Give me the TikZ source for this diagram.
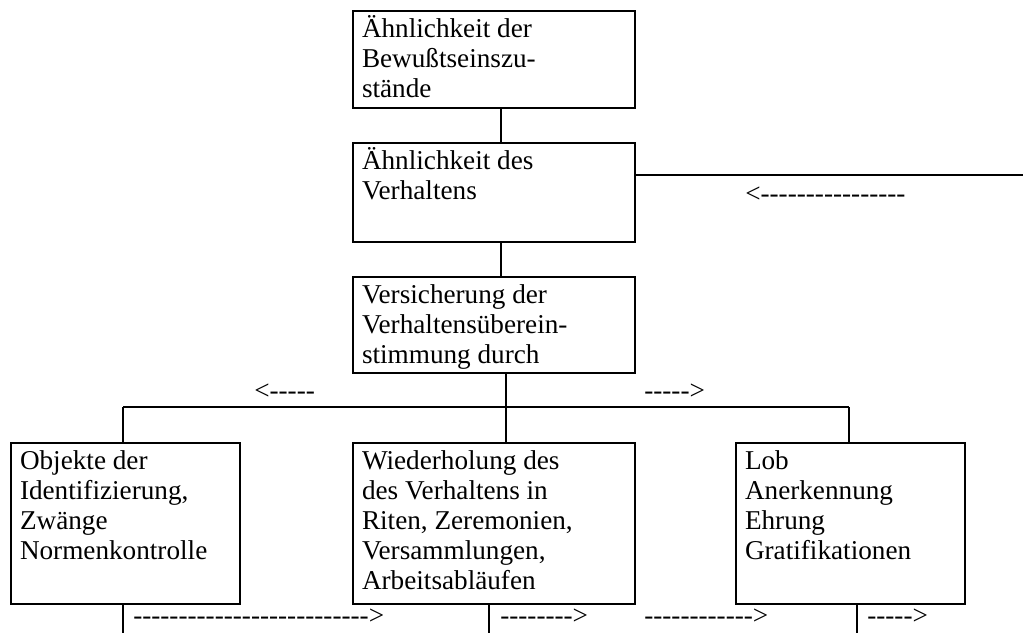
\documentclass[tikz,border=0pt]{standalone}
\usepackage{fontspec}
\setmainfont{Liberation Serif}[Ligatures=TeXOff]
\newcommand\diafont{\fontsize{20.4pt}{22.5pt}\selectfont}
\newcommand\boxtext[3]{\parbox[c][#2][t]{#1}{\diafont\raggedright\leftskip=6.75pt\relax\rule{0pt}{19.5pt}#3}}
\begin{document}
\begin{tikzpicture}[x=0.75pt,y=-0.75pt,
  box/.style={draw, line width=1.5pt, anchor=north west, inner sep=0pt},
  conn/.style={line width=1.5pt},
  lbl/.style={anchor=base west, inner sep=0pt, font=\diafont}]
\useasboundingbox (0,0) rectangle (1023,633);
% boxes
\node[box] (b1) at (352,10) {\boxtext{211.5pt}{72.75pt}{Ähnlichkeit der\\Bewußtseinszu-\\stände}};
\node[box] (b2) at (352,142) {\boxtext{211.5pt}{74.25pt}{Ähnlichkeit des\\Verhaltens}};
\node[box] (b3) at (352,276) {\boxtext{211.5pt}{72pt}{Versicherung der\\Verhaltensüberein-\\stimmung durch}};
\node[box] (bl) at (10,442) {\boxtext{171.75pt}{120.75pt}{Objekte der\\Identifizierung,\\Zwänge\\Normenkontrolle}};
\node[box] (bm) at (352,442) {\boxtext{211.5pt}{120.75pt}{Wiederholung des\\des Verhaltens in\\Riten, Zeremonien,\\Versammlungen,\\Arbeitsabläufen}};
\node[box] (br) at (735,442) {\boxtext{171.75pt}{120.75pt}{Lob\\Anerkennung\\Ehrung\\Gratifikationen}};
% helper coordinates
\coordinate (v1) at (501,0);
\coordinate (jm) at (506,407);
\coordinate (jl) at (123,407);
\coordinate (jr) at (849,407);
\coordinate (re) at (1023,175);
\coordinate (botl) at (123,633);
\coordinate (botm) at (489,633);
\coordinate (botr) at (857,633);
% connectors
\draw[conn] (b1.south -| v1) -- (b2.north -| v1);
\draw[conn] (b2.south -| v1) -- (b3.north -| v1);
\draw[conn] (b2.east |- re) -- (re);
\draw[conn] (b3.south -| jm) -- (jm);
\draw[conn] (jl) -- (jr);
\draw[conn] (jl) -- (bl.north -| jl);
\draw[conn] (jm) -- (bm.north -| jm);
\draw[conn] (jr) -- (br.north -| jr);
\draw[conn] (bl.south -| botl) -- (botl);
\draw[conn] (bm.south -| botm) -- (botm);
\draw[conn] (br.south -| botr) -- (botr);
% dashed-arrow texts
\node[lbl] (t1) at (745,202) {<----------------};
\node[lbl] (t2) at (254,399) {<-----};
\node[lbl] (t3) at (644,399) {----->};
\node[lbl] (t4) at (133,624) {-------------------------->};
\node[lbl] (t5) at (500,624) {-------->};
\node[lbl] (t6) at (644,624) {------------>};
\node[lbl] (t7) at (867,624) {----->};
\end{tikzpicture}
\end{document}
